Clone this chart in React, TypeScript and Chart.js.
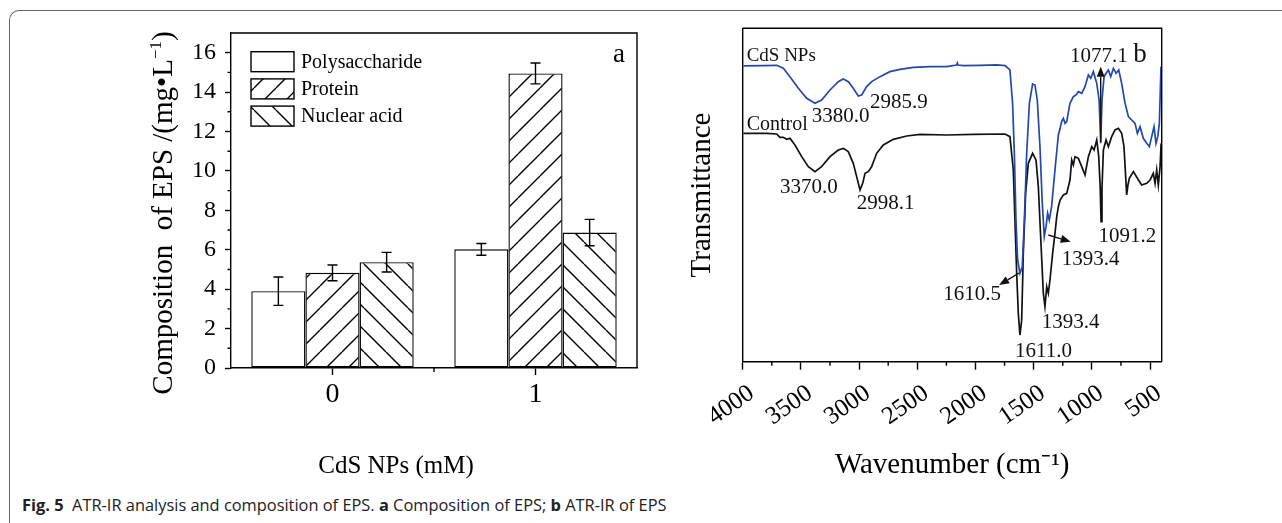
import React, { useEffect, useRef } from "react";
import { Chart, registerables } from "chart.js";

Chart.register(...registerables);

const SERIF = '"Liberation Serif", "Times New Roman", Times, serif';

// ---------- Panel a: composition of EPS ----------
const doseCategories = ["0", "1"];
const polysaccharide = [3.9, 6.02];
const polysaccharideErr = [0.72, 0.3];
const protein = [4.83, 14.95];
const proteinErr = [0.4, 0.53];
const nuclearAcid = [5.37, 6.87];
const nuclearAcidErr = [0.5, 0.67];
const seriesNames = ["Polysaccharide", "Protein", "Nuclear acid"];
const errorSets = [polysaccharideErr, proteinErr, nuclearAcidErr];
const yTickLabelsA = [0, 2, 4, 6, 8, 10, 12, 14, 16];

// ---------- Panel b: ATR-IR spectra ----------
const cdsWavenumber = [
  3995, 3823, 3708, 3651, 3594, 3522, 3450, 3379, 3322, 3250, 3179, 3136, 3092, 3050, 3007, 2978, 2935, 2892,
  2820, 2735, 2649, 2534, 2391, 2248, 2162, 2156, 2150, 2104, 1961, 1818, 1746, 1704, 1681, 1666, 1652, 1638,
  1618, 1598, 1580, 1560, 1537, 1509, 1489, 1469, 1446, 1426, 1409, 1394, 1380, 1366, 1346, 1317, 1288, 1273,
  1260, 1245, 1230, 1216, 1188, 1159, 1136, 1116, 1087, 1059, 1030, 1010, 987, 958, 938, 924, 913, 895, 878,
  858, 838, 815, 792, 769, 744, 715, 686, 658, 629, 609, 586, 558, 529, 506, 486, 466, 449, 434, 420, 406,
];
const cdsTransmittance = [
  88.7, 88.8, 88.9, 88, 85.5, 82, 79, 77.5, 78.5, 81.5, 84, 84.8, 84, 82, 79.7, 80, 82.5, 84,
  85.5, 87, 87.7, 88.3, 88.5, 88.5, 89, 89.6, 89, 88.8, 88.9, 89, 88.8, 87.5, 77.5, 62.5, 42.5, 30.5,
  26.5, 28.5, 42.5, 62.5, 77.5, 83.3, 83, 78.5, 64.5, 47.5, 37.5, 40.5, 44.5, 42.5, 46.5, 57.5, 68, 70,
  72, 73, 71.5, 72, 77.5, 79.5, 80, 81, 80.5, 82.5, 86, 85, 87, 83.5, 78.5, 65.5, 78.5, 85.5, 86.5,
  87.5, 85.5, 88, 86.5, 87.5, 83.5, 77.5, 73.5, 72.5, 71.5, 68.5, 70.5, 67, 65.5, 64.5, 67.5, 70.5, 65.5, 67.5, 71.5, 88.5,
];
const controlWavenumber = [
  3995, 3794, 3708, 3680, 3651, 3622, 3594, 3551, 3493, 3436, 3379, 3322, 3250, 3179, 3136, 3093, 3050, 3021,
  2992, 2969, 2949, 2921, 2892, 2849, 2792, 2706, 2591, 2477, 2248, 2018, 1746, 1704, 1675, 1661, 1646, 1632,
  1618, 1603, 1589, 1569, 1546, 1509, 1480, 1460, 1440, 1417, 1403, 1388, 1374, 1360, 1337, 1317, 1302, 1288,
  1273, 1245, 1216, 1188, 1173, 1159, 1145, 1116, 1087, 1059, 1030, 1001, 981, 958, 941, 928, 921, 913, 901,
  878, 858, 830, 801, 772, 744, 724, 712, 701, 690, 678, 643, 600, 572, 529, 500, 472, 457, 443, 429, 414, 405,
];
const controlTransmittance = [
  68.5, 68.5, 68.3, 67.3, 67.3, 66.7, 67, 65, 61.5, 58.5, 57, 58.5, 61.5, 63.5, 64, 63, 59.5, 55.5,
  51.5, 53.5, 56.5, 57, 58.5, 62.5, 65, 66.7, 67.7, 68.2, 68, 68.2, 68.3, 67.5, 57.5, 42.5, 26.5, 14.5,
  8, 12.5, 32.5, 50.5, 59.5, 62.5, 60.5, 52.5, 37.5, 20.5, 16.5, 22.5, 20.5, 24.5, 32.5, 38.5, 43.5, 46.5,
  48.5, 50, 50.5, 54.5, 60.5, 59, 61.5, 61, 58.5, 56, 61.5, 64.5, 63.5, 66.5, 61.5, 52, 42, 52, 63.5,
  66.5, 64.5, 67.5, 69.5, 70, 68.5, 64.5, 57, 50, 53, 55, 57, 54.5, 53, 53.5, 54.5, 56.5, 53.5, 57.5, 53, 58.5, 65.5,
];
const wavenumberTickLabels = [4000, 3500, 3000, 2500, 2000, 1500, 1000, 500];

// peak annotations (wavenumber, transmittance, text)
const peakLabels = [
  { text: "CdS NPs", wn: 3966, t: 90.2, size: 19 },
  { text: "Control", wn: 3966, t: 69.5, size: 20 },
  { text: "3380.0", wn: 3407, t: 72, size: 21 },
  { text: "2985.9", wn: 2906, t: 76, size: 21 },
  { text: "3370.0", wn: 3679, t: 50.5, size: 21 },
  { text: "2998.1", wn: 3020, t: 45.8, size: 21 },
  { text: "1610.5", wn: 2276, t: 18.5, size: 21 },
  { text: "1611.0", wn: 1660, t: 1.5, size: 21 },
  { text: "1393.4", wn: 1431, t: 10, size: 21 },
  { text: "1393.4", wn: 1259, t: 29, size: 21 },
  { text: "1091.2", wn: 944, t: 36, size: 21 },
  { text: "1077.1", wn: 1187, t: 90, size: 21 },
  { text: "b", wn: 644, t: 90, size: 27 },
];
const peakArrows = [
  { from: [1625, 26.6], to: [1797, 23] },
  { from: [1374, 38], to: [1182, 36] },
  { from: [924, 66], to: [924, 88.5] },
];

function makeHatch(dir: number, size = 22, lw = 1.4): CanvasPattern | string {
  const c = document.createElement("canvas");
  c.width = size;
  c.height = size;
  const g = c.getContext("2d");
  if (!g) return "#fff";
  g.fillStyle = "#fff";
  g.fillRect(0, 0, size, size);
  g.strokeStyle = "#000";
  g.lineWidth = lw;
  g.beginPath();
  for (let k = -1; k <= 1; k++) {
    if (dir > 0) {
      g.moveTo(k * size, size);
      g.lineTo(k * size + size, 0);
    } else {
      g.moveTo(k * size, 0);
      g.lineTo(k * size + size, size);
    }
  }
  g.stroke();
  return g.createPattern(c, "repeat") || "#fff";
}

const framePlugin = {
  id: "frameBox",
  afterDraw(chart: any) {
    const { ctx, chartArea } = chart;
    ctx.save();
    ctx.strokeStyle = "#000";
    ctx.lineWidth = 1.4;
    ctx.beginPath();
    ctx.moveTo(chartArea.left, chartArea.top);
    ctx.lineTo(chartArea.right, chartArea.top);
    ctx.lineTo(chartArea.right, chartArea.bottom);
    ctx.stroke();
    ctx.restore();
  },
};

const errorBarPlugin = {
  id: "errorBars",
  afterDatasetsDraw(chart: any) {
    const { ctx } = chart;
    const y = chart.scales.y;
    ctx.save();
    ctx.strokeStyle = "#000";
    ctx.lineWidth = 1.4;
    chart.data.datasets.forEach((ds: any, di: number) => {
      const meta = chart.getDatasetMeta(di);
      meta.data.forEach((bar: any, i: number) => {
        const v = ds.data[i];
        const e = errorSets[di][i];
        const yt = y.getPixelForValue(v + e);
        const yb = y.getPixelForValue(v - e);
        ctx.beginPath();
        ctx.moveTo(bar.x, yt);
        ctx.lineTo(bar.x, yb);
        ctx.moveTo(bar.x - 5, yt);
        ctx.lineTo(bar.x + 5, yt);
        ctx.moveTo(bar.x - 5, yb);
        ctx.lineTo(bar.x + 5, yb);
        ctx.stroke();
      });
    });
    ctx.restore();
  },
};

const minorTicksA = {
  id: "minorTicksA",
  afterDraw(chart: any) {
    const { ctx } = chart;
    const x = chart.scales.x;
    const y = chart.scales.y;
    ctx.save();
    ctx.strokeStyle = "#000";
    ctx.lineWidth = 1.4;
    ctx.beginPath();
    y.ticks.forEach((t: any) => {
      if (!yTickLabelsA.includes(t.value) && t.value < y.max) {
        const py = y.getPixelForValue(t.value);
        ctx.moveTo(y.right, py);
        ctx.lineTo(y.right - 3.5, py);
      }
    });
    for (let i = 0; i < x.ticks.length - 1; i++) {
      const px = (x.getPixelForValue(i) + x.getPixelForValue(i + 1)) / 2;
      ctx.moveTo(px, x.top);
      ctx.lineTo(px, x.top + 4);
    }
    ctx.stroke();
    ctx.restore();
  },
};

const legendA = {
  id: "legendA",
  afterDraw(chart: any) {
    const { ctx, chartArea } = chart;
    ctx.save();
    ctx.font = `20px ${SERIF}`;
    ctx.textBaseline = "middle";
    ctx.fillStyle = "#000";
    chart.data.datasets.forEach((ds: any, i: number) => {
      const bx = chartArea.left + 20;
      const by = chartArea.top + 18.7 + i * 27.2;
      ctx.fillStyle = ds.backgroundColor;
      ctx.fillRect(bx, by, 43, 20);
      ctx.strokeStyle = "#000";
      ctx.lineWidth = 1.4;
      ctx.strokeRect(bx, by, 43, 20);
      ctx.fillStyle = "#000";
      ctx.fillText(ds.label, bx + 50, by + 11);
    });
    ctx.font = `27px ${SERIF}`;
    ctx.textBaseline = "alphabetic";
    ctx.fillText("a", chartArea.right - 24, chartArea.top + 28.7);
    ctx.restore();
  },
};

const titlesA = {
  id: "titlesA",
  afterDraw(chart: any) {
    const { ctx } = chart;
    ctx.save();
    ctx.fillStyle = "#000";
    // x title
    ctx.font = `25px ${SERIF}`;
    ctx.textAlign = "center";
    ctx.textBaseline = "middle";
    ctx.fillText("CdS NPs (mM)", 296, 466);
    // y title with superscript
    const size = 29;
    const segs = [
      { t: "Composition  of EPS /(mg•L", sup: false },
      { t: "−1", sup: true },
      { t: ")", sup: false },
    ];
    const fontFor = (sup: boolean) => `${sup ? Math.round(size * 0.6) : size}px ${SERIF}`;
    let total = 0;
    segs.forEach((s) => {
      ctx.font = fontFor(s.sup);
      total += ctx.measureText(s.t).width;
    });
    ctx.translate(62, 213);
    ctx.rotate(-Math.PI / 2);
    ctx.textAlign = "left";
    ctx.textBaseline = "alphabetic";
    let cx = -total / 2;
    segs.forEach((s) => {
      ctx.font = fontFor(s.sup);
      ctx.fillText(s.t, cx, s.sup ? 10 - size * 0.38 : 10);
      cx += ctx.measureText(s.t).width;
    });
    ctx.restore();
  },
};

const minorTicksB = {
  id: "minorTicksB",
  afterDraw(chart: any) {
    const { ctx } = chart;
    const x = chart.scales.x;
    ctx.save();
    ctx.strokeStyle = "#000";
    ctx.lineWidth = 1.4;
    ctx.beginPath();
    x.ticks.forEach((t: any) => {
      if (!wavenumberTickLabels.includes(t.value)) {
        const px = x.getPixelForValue(t.value);
        ctx.moveTo(px, x.top);
        ctx.lineTo(px, x.top + 4);
      }
    });
    ctx.stroke();
    ctx.restore();
  },
};

const annotationsB = {
  id: "annotationsB",
  afterDraw(chart: any) {
    const { ctx } = chart;
    const x = chart.scales.x;
    const y = chart.scales.y;
    ctx.save();
    ctx.fillStyle = "#111";
    ctx.textAlign = "left";
    ctx.textBaseline = "alphabetic";
    peakLabels.forEach((p) => {
      ctx.font = `${p.size}px ${SERIF}`;
      ctx.fillText(p.text, x.getPixelForValue(p.wn), y.getPixelForValue(p.t));
    });
    ctx.strokeStyle = "#111";
    ctx.lineWidth = 1.4;
    peakArrows.forEach((a) => {
      const x0 = x.getPixelForValue(a.from[0]);
      const y0 = y.getPixelForValue(a.from[1]);
      const x1 = x.getPixelForValue(a.to[0]);
      const y1 = y.getPixelForValue(a.to[1]);
      const ang = Math.atan2(y1 - y0, x1 - x0);
      const hl = 10;
      const hw = 4;
      const bx = x1 - hl * Math.cos(ang);
      const by = y1 - hl * Math.sin(ang);
      ctx.beginPath();
      ctx.moveTo(x0, y0);
      ctx.lineTo(bx, by);
      ctx.stroke();
      ctx.beginPath();
      ctx.moveTo(x1, y1);
      ctx.lineTo(bx + hw * Math.sin(ang), by - hw * Math.cos(ang));
      ctx.lineTo(bx - hw * Math.sin(ang), by + hw * Math.cos(ang));
      ctx.closePath();
      ctx.fill();
    });
    ctx.restore();
  },
};

export default function App() {
  const aRef = useRef<HTMLCanvasElement | null>(null);
  const bRef = useRef<HTMLCanvasElement | null>(null);

  useEffect(() => {
    if (!aRef.current || !bRef.current) return;
    Chart.defaults.font.family = SERIF;
    const fills = ["#ffffff", makeHatch(1), makeHatch(-1)];
    const values = [polysaccharide, protein, nuclearAcid];

    const chartA = new Chart(aRef.current, {
      type: "bar",
      data: {
        labels: doseCategories,
        datasets: seriesNames.map((name, i) => ({
          label: name,
          data: values[i],
          backgroundColor: fills[i] as any,
          borderColor: "#000",
          borderWidth: 1.4,
          borderSkipped: false,
          categoryPercentage: 0.8,
          barPercentage: 1.0,
        })),
      },
      options: {
        responsive: false,
        animation: false,
        layout: { padding: { top: 33, right: 43, left: 0, bottom: 0 } },
        plugins: { legend: { display: false }, tooltip: { enabled: false } },
        scales: {
          x: {
            offset: true,
            grid: {
              offset: false,
              drawOnChartArea: false,
              tickLength: 7,
              tickColor: "#000",
              tickWidth: 1.4,
            },
            border: { color: "#000", width: 1.4 },
            ticks: { color: "#000", font: { family: SERIF, size: 28 }, padding: 3 },
            afterFit: (s: any) => {
              s.height = 122;
            },
          },
          y: {
            min: 0,
            max: 17,
            grid: {
              drawOnChartArea: false,
              tickLength: 6,
              tickWidth: 1.4,
              tickColor: (c: any) => (c.tick && yTickLabelsA.includes(c.tick.value) ? "#000" : "rgba(0,0,0,0)"),
            },
            border: { color: "#000", width: 1.4 },
            ticks: {
              stepSize: 1,
              autoSkip: false,
              color: "#000",
              padding: 9,
              font: { family: SERIF, size: 24 },
              callback: (v: any) => (yTickLabelsA.includes(v) ? String(v) : ""),
            },
            afterFit: (s: any) => {
              s.width = 131;
            },
          },
        },
      } as any,
      plugins: [framePlugin, errorBarPlugin, minorTicksA, legendA, titlesA],
    });

    const chartB = new Chart(bRef.current, {
      type: "line",
      data: {
        datasets: [
          {
            label: "CdS NPs",
            data: cdsWavenumber.map((w, i) => ({ x: w, y: cdsTransmittance[i] })),
            borderColor: "#2348ad",
            borderWidth: 1.7,
            pointRadius: 0,
            tension: 0,
          },
          {
            label: "Control",
            data: controlWavenumber.map((w, i) => ({ x: w, y: controlTransmittance[i] })),
            borderColor: "#111111",
            borderWidth: 1.7,
            pointRadius: 0,
            tension: 0,
          },
        ],
      },
      options: {
        responsive: false,
        animation: false,
        layout: { padding: { top: 28.3, right: 18.3, left: 0, bottom: 0 } },
        plugins: { legend: { display: false }, tooltip: { enabled: false } },
        scales: {
          x: {
            type: "linear",
            reverse: true,
            min: 400,
            max: 4000,
            grid: {
              drawOnChartArea: false,
              tickLength: 8,
              tickWidth: 1.4,
              tickColor: (c: any) =>
                c.tick && wavenumberTickLabels.includes(c.tick.value) ? "#000" : "rgba(0,0,0,0)",
            },
            border: { color: "#000", width: 1.4 },
            ticks: {
              stepSize: 250,
              includeBounds: false,
              autoSkip: false,
              minRotation: 35,
              maxRotation: 35,
              padding: 9,
              labelOffset: 9,
              color: "#000",
              font: { family: SERIF, size: 25 },
              callback: (v: any) => (wavenumberTickLabels.includes(v) ? String(v) : ""),
            },
            title: {
              display: true,
              text: "Wavenumber (cm⁻¹)",
              color: "#000",
              font: { family: SERIF, size: 29 },
              padding: { top: 0, bottom: 7 },
            },
            afterFit: (s: any) => {
              s.height = 128.3;
            },
          },
          y: {
            min: 0,
            max: 100,
            grid: { display: false },
            ticks: { display: false },
            border: { color: "#000", width: 1.4 },
            title: {
              display: true,
              text: "Transmittance",
              color: "#000",
              font: { family: SERIF, size: 29 },
              padding: { top: 25, bottom: 0 },
            },
            afterFit: (s: any) => {
              s.width = 82.7;
            },
          },
        },
      } as any,
      plugins: [framePlugin, minorTicksB, annotationsB],
    });

    return () => {
      chartA.destroy();
      chartB.destroy();
    };
  }, []);

  return (
    <div style={{ position: "relative", width: 1282, height: 523, overflow: "hidden", background: "#fff" }}>
      <style>{`body{margin:0}`}</style>
      <div
        style={{
          position: "absolute",
          left: 9,
          top: 10,
          width: 1400,
          height: 700,
          borderLeft: "1px solid #666",
          borderTop: "1px solid #666",
          borderTopLeftRadius: 10,
        }}
      />
      <canvas ref={aRef} width={580} height={490} style={{ position: "absolute", left: 100, top: 0 }} />
      <canvas ref={bRef} width={520} height={490} style={{ position: "absolute", left: 660, top: 0 }} />
      <div
        style={{
          position: "absolute",
          left: 22,
          top: 494,
          fontFamily: '"Open Sans", "Noto Sans", sans-serif',
          fontSize: 16.4,
          lineHeight: "22px",
          color: "#222",
          whiteSpace: "nowrap",
        }}
      >
        <b>Fig. 5</b>&nbsp; ATR-IR analysis and composition of EPS. <b>a</b> Composition of EPS; <b>b</b> ATR-IR of EPS
      </div>
    </div>
  );
}
